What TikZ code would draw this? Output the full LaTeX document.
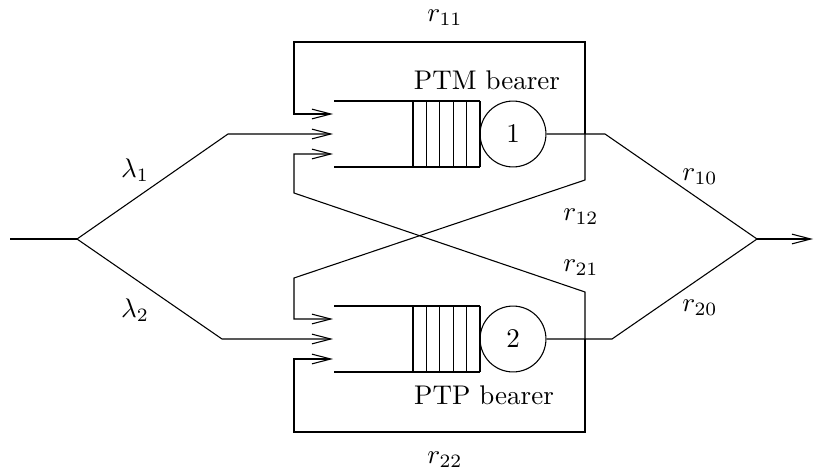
\documentclass[tikz,border=0pt]{standalone}
\usepackage{amsmath}
\usepackage{amssymb}
\usetikzlibrary{arrows.meta}

\tikzset{
	server/.style={draw, circle, minimum size=24.4pt, inner sep=0pt},
	rate/.style={inner sep=1pt},
	>={Straight Barb[length=7pt,width=3.6pt]}
}

\begin{document}
\begin{tikzpicture}[x=0.3704pt, y=-0.3704pt]
			\useasboundingbox (0,0) rectangle (814,470);
			% servers and buffers
			\node[server] (s1) at (513,134) {1};
			\node[server] (s2) at (513,339) {2};
			\foreach \y in {134,339} {
				\draw (334,\y-33) -- (480,\y-33);
				\draw (334,\y+33) -- (480,\y+33);
				\foreach \i in {0,...,5}
				\draw (413+\i*13.4,\y-33) -- (413+\i*13.4,\y+33);
			}
			\node (ptm) at (487,80) {PTM bearer};
			\node (ptp) at (484,395) {PTP bearer};

			% entry points of the queues
			\coordinate (q1a) at (333,114);
			\coordinate (q1b) at (333,134);
			\coordinate (q1c) at (333,154);
			\coordinate (q2a) at (333,319);
			\coordinate (q2b) at (333,339);
			\coordinate (q2c) at (333,359);
			\coordinate (in) at (10,239);
			\coordinate (split) at (77,239);
			\coordinate (f1) at (585,134);
			\coordinate (f2) at (585,339);
			\coordinate (o1) at (605,134);
			\coordinate (o2) at (612,339);
			\coordinate (join) at (757,239);
			\coordinate (out) at (813,239);

			% arrivals
			\draw (in) -- (split);
			\draw[->] (split) -- (228,134) -- (q1b);
			\draw[->] (split) -- (222,339) -- (q2b);

			% feedback
			\draw[->] (f1) |- (294,42) |- (q1a);
			\draw[->] (f1) -- (585,180) -- (294,278) |- (q2a);
			\draw[->] (f2) -- (585,292) -- (294,193) |- (q1c);
			\draw[->] (f2) |- (294,432) |- (q2c);

			% departures
			\draw (s1) -- (o1) -- (join);
			\draw (s2) -- (o2) -- (join);
			\draw[->] (join) -- (out);

			% rates
			\node[rate] (l1) at (135,170) {\(\lambda_1\)};
			\node[rate] (l2) at (135,310) {\(\lambda_2\)};
			\node[rate] (r11) at (445,18) {\(r_{11}\)};
			\node[rate] (r22) at (445,460) {\(r_{22}\)};
			\node[rate] (r12) at (581,217) {\(r_{12}\)};
			\node[rate] (r21) at (581,268) {\(r_{21}\)};
			\node[rate] (r10) at (700,177) {\(r_{10}\)};
			\node[rate] (r20) at (700,308) {\(r_{20}\)};
		\end{tikzpicture}
\end{document}
